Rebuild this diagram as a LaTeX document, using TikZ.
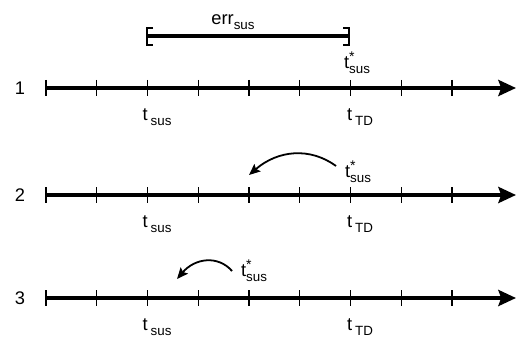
\documentclass[tikz,border=0pt]{standalone}
\usepackage{fontspec}
\setmainfont{Liberation Sans}
\usetikzlibrary{arrows.meta}

\tikzset{
  axis/.style={line width=1.15mm, -{Stealth[length=4.4mm,width=4mm,inset=0.7mm]}},
  tickmark/.style={line width=0.35mm},
  bar/.style={line width=1.1mm},
  lbl/.style={font=\fontsize{13}{15}\selectfont, inner sep=0pt},
  move/.style={line width=0.45mm, -{Stealth[length=2.8mm,width=2.4mm,inset=0.5mm]}}
}
\newcommand{\lo}[1]{\raisebox{-0.5ex}{\fontsize{9.5}{10}\selectfont #1}}
\newcommand{\tstar}{t\rlap{\raisebox{0.75ex}{\fontsize{10}{10}\selectfont *}}\lo{sus}}

\begin{document}
\begin{tikzpicture}[x=0.25mm,y=-0.25mm]
    \useasboundingbox (0,0) rectangle (516,339);

    % time axes 1-3
    \foreach \r/\y in {1/88, 2/195, 3/298} {
        \node[lbl] (row\r) at (20,\y) {\r};
        \coordinate (start\r) at (46,\y);
        \coordinate (end\r) at (516,\y);
        \foreach \i in {0,...,8}
            \draw[tickmark] (46+50.75*\i,\y-8) -- (46+50.75*\i,\y+8);
        \draw[axis] (start\r) -- (end\r);
        \node[lbl] (sus\r) at (157,\y+29) {t\,\lo{sus}};
        \node[lbl] (td\r) at (360,\y+29) {t\,\lo{TD}};
    }

    % error interval
    \coordinate (left) at (147,36);
    \coordinate (right) at (349,36);
    \draw[bar] (left) -- (right);
    \draw[tickmark] (153,28) -- (147,28) -- (147,45) -- (153,45);
    \draw[tickmark] (343,28) -- (349,28) -- (349,45) -- (343,45);
    \node[lbl] (err) at (233,22) {err\lo{sus}};
    \node[lbl] (star1) at (357,63) {\tstar};

    % shifted estimate, row 2
    \node[lbl] (star2) at (358,172) {\tstar};
    \coordinate (from2) at (336,166);
    \coordinate (to2) at (249,175);
    \draw[move] (from2) .. controls (310,147) and (278,150) .. (to2);

    % shifted estimate, row 3
    \node[lbl] (star3) at (254,271) {\tstar};
    \coordinate (from3) at (232,271);
    \coordinate (to3) at (177,279);
    \draw[move] (from3) .. controls (218,255) and (195,258) .. (to3);
\end{tikzpicture}
\end{document}
